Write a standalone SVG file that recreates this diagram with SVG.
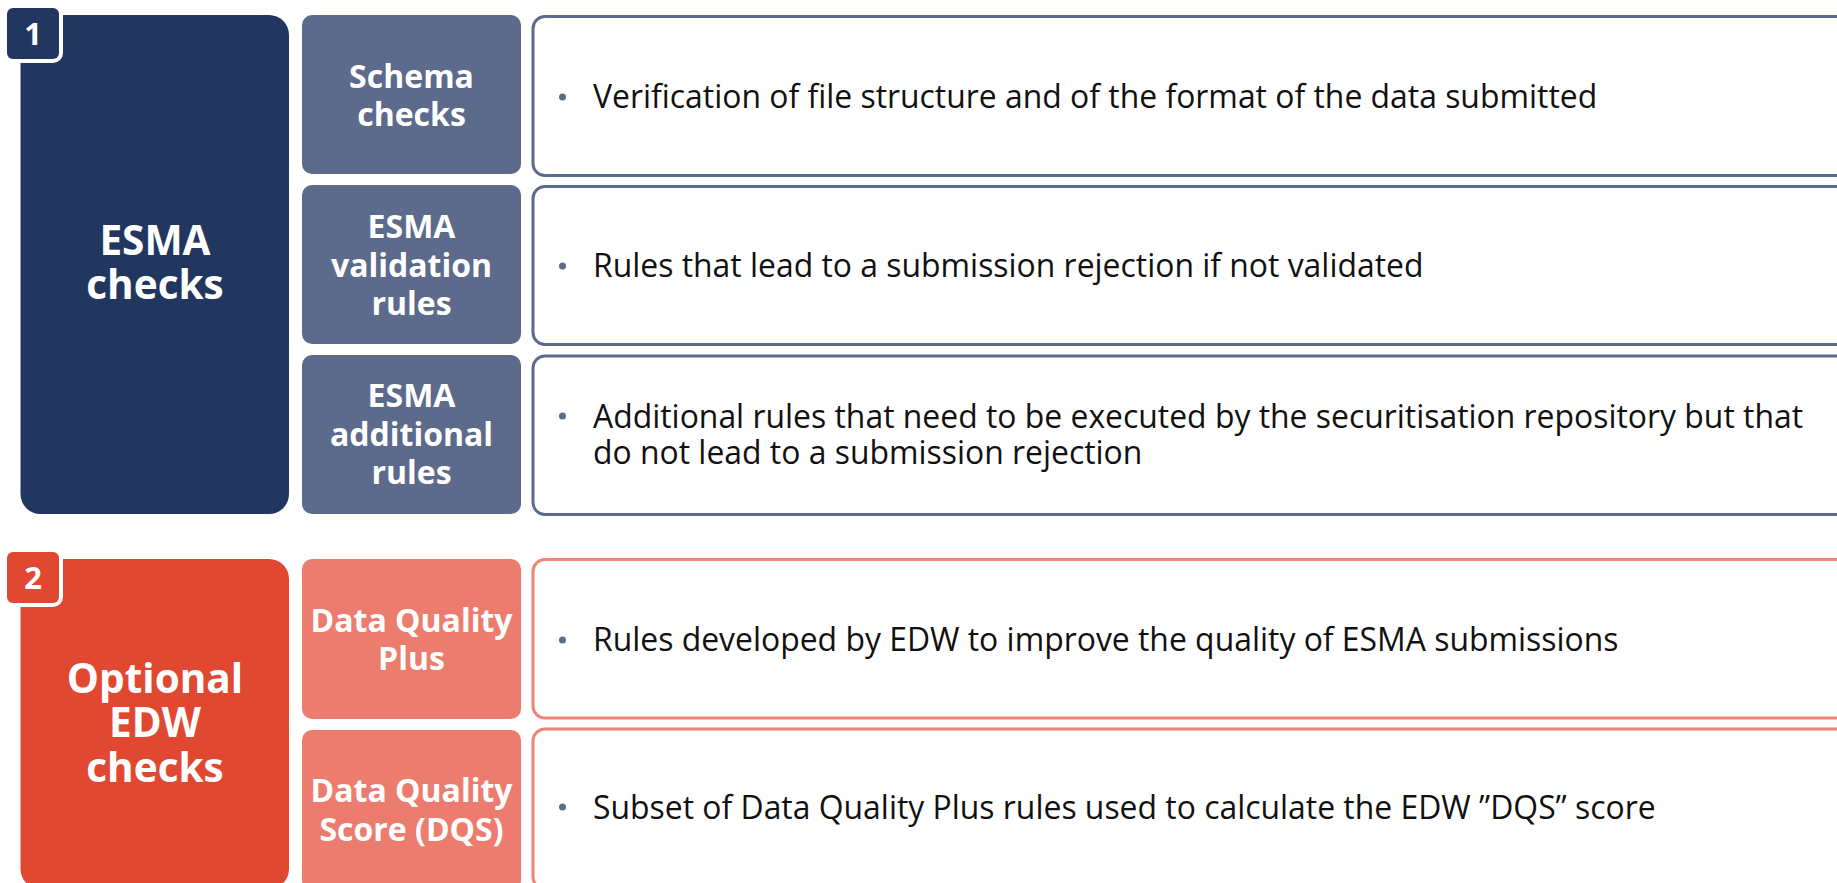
<svg xmlns="http://www.w3.org/2000/svg" width="1837" height="883" viewBox="0 0 1837 883">
  <style>
    .main-blue { fill: #21375f; }
    .main-red { fill: #e04831; }
    .sub-blue { fill: #5c6b8b; }
    .sub-red { fill: #ec7d6e; }
    .desc-blue { fill: #ffffff; stroke: #5c6b8b; stroke-width: 3; }
    .desc-red { fill: #ffffff; stroke: #ee8576; stroke-width: 3; }
    .badge { stroke: #ffffff; stroke-width: 8; paint-order: stroke; }
    .bullet-dot { fill: #5c6b8b; }
    .lbl-main { font-family: "Open Sans", "Liberation Sans", sans-serif; font-weight: 700; font-size: 40.5px; fill: #ffffff; text-anchor: middle; }
    .lbl-sub { font-family: "Open Sans", "Liberation Sans", sans-serif; font-weight: 700; font-size: 32px; fill: #ffffff; text-anchor: middle; }
    .lbl-num { font-family: "Open Sans", "Liberation Sans", sans-serif; font-weight: 700; font-size: 31px; fill: #ffffff; text-anchor: middle; }
    .desc { font-family: "Open Sans", "Liberation Sans", sans-serif; font-size: 31.9px; fill: #111111; }
  </style>
  <rect width="1837" height="883" fill="#ffffff"/>

  <!-- Section 1: ESMA checks -->
  <g id="esma-checks">
    <rect class="main-blue" x="20.5" y="15" width="268.5" height="499" rx="20"/>
    <text class="lbl-main"><tspan x="155" y="255">ESMA</tspan><tspan x="155" y="299">checks</tspan></text>
  </g>
  <g id="badge-1">
    <rect class="main-blue badge" x="7" y="8" width="52" height="51" rx="6"/>
    <text class="lbl-num" x="33" y="44.5">1</text>
  </g>

  <g id="schema-checks">
    <rect class="sub-blue" x="302" y="15" width="219" height="159" rx="10"/>
    <text class="lbl-sub"><tspan x="411.5" y="88">Schema</tspan><tspan x="411.5" y="126">checks</tspan></text>
  </g>
  <g id="schema-checks-desc">
    <rect class="desc-blue" x="533" y="16.5" width="1330" height="159" rx="12"/>
    <circle class="bullet-dot" cx="562.5" cy="97" r="3.5"/>
    <text class="desc" x="593" y="108">Verification of file structure and of the format of the data submitted</text>
  </g>

  <g id="esma-validation-rules">
    <rect class="sub-blue" x="302" y="185" width="219" height="159" rx="10"/>
    <text class="lbl-sub"><tspan x="411.5" y="238">ESMA</tspan><tspan x="411.5" y="276.5">validation</tspan><tspan x="411.5" y="315">rules</tspan></text>
  </g>
  <g id="esma-validation-rules-desc">
    <rect class="desc-blue" x="533" y="186.5" width="1330" height="158" rx="12"/>
    <circle class="bullet-dot" cx="562.5" cy="266" r="3.5"/>
    <text class="desc" x="593" y="277">Rules that lead to a submission rejection if not validated</text>
  </g>

  <g id="esma-additional-rules">
    <rect class="sub-blue" x="302" y="355" width="219" height="159" rx="10"/>
    <text class="lbl-sub"><tspan x="411.5" y="407">ESMA</tspan><tspan x="411.5" y="445.5">additional</tspan><tspan x="411.5" y="484">rules</tspan></text>
  </g>
  <g id="esma-additional-rules-desc">
    <rect class="desc-blue" x="533" y="356" width="1330" height="158.5" rx="12"/>
    <circle class="bullet-dot" cx="562.5" cy="416" r="3.5"/>
    <text class="desc"><tspan x="593" y="428">Additional rules that need to be executed by the securitisation repository but that</tspan><tspan x="593" y="464">do not lead to a submission rejection</tspan></text>
  </g>

  <!-- Section 2: Optional EDW checks -->
  <g id="optional-edw-checks">
    <rect class="main-red" x="20.5" y="559" width="268.5" height="330" rx="20"/>
    <text class="lbl-main"><tspan x="155" y="693">Optional</tspan><tspan x="155" y="737">EDW</tspan><tspan x="155" y="782">checks</tspan></text>
  </g>
  <g id="badge-2">
    <rect class="main-red badge" x="7" y="552" width="52" height="51" rx="6"/>
    <text class="lbl-num" x="33" y="588.5">2</text>
  </g>

  <g id="data-quality-plus">
    <rect class="sub-red" x="302" y="559" width="219" height="160" rx="10"/>
    <text class="lbl-sub"><tspan x="411.5" y="632">Data Quality</tspan><tspan x="411.5" y="670">Plus</tspan></text>
  </g>
  <g id="data-quality-plus-desc">
    <rect class="desc-red" x="533" y="559.5" width="1330" height="158.5" rx="12"/>
    <circle class="bullet-dot" cx="562.5" cy="640" r="3.5"/>
    <text class="desc" x="593" y="651">Rules developed by EDW to improve the quality of ESMA submissions</text>
  </g>

  <g id="data-quality-score">
    <rect class="sub-red" x="302" y="730" width="219" height="160" rx="10"/>
    <text class="lbl-sub"><tspan x="411.5" y="802">Data Quality</tspan><tspan x="411.5" y="841">Score (DQS)</tspan></text>
  </g>
  <g id="data-quality-score-desc">
    <rect class="desc-red" x="533" y="729" width="1330" height="160" rx="12"/>
    <circle class="bullet-dot" cx="562.5" cy="807" r="3.5"/>
    <text class="desc" x="593" y="819">Subset of Data Quality Plus rules used to calculate the EDW ”DQS” score</text>
  </g>
</svg>
